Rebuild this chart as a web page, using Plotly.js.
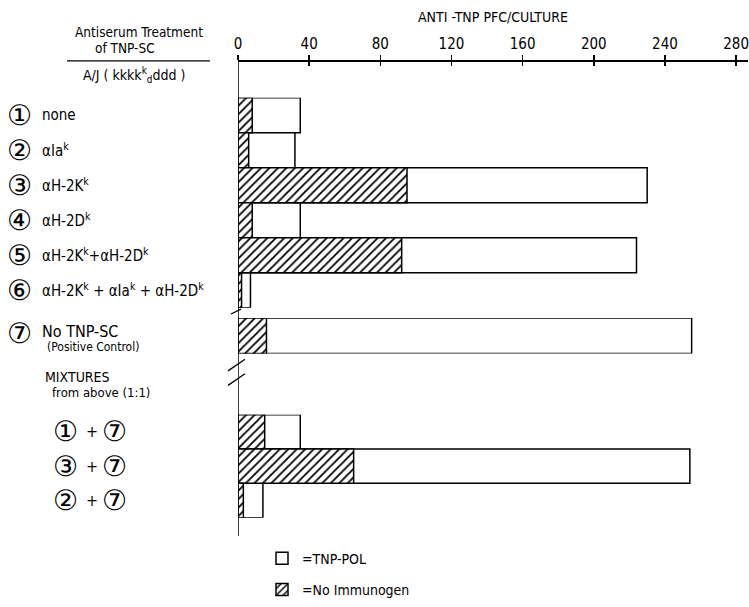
<!DOCTYPE html>
<html>
<head>
<meta charset="utf-8">
<script src="https://cdn.plot.ly/plotly-3.0.1.min.js"></script>
<style>html,body{margin:0;padding:0;background:#fff;}</style>
</head>
<body>
<div id="chart" style="width:749px;height:607px;"></div>
<script>
// ---- data ----
const rowNumbers = ['①', '②', '③', '④', '⑤', '⑥'];
const rowLabels = [
  'none',
  'αIa<sup>k</sup>',
  'αH-2K<sup>k</sup>',
  'αH-2D<sup>k</sup>',
  'αH-2K<sup>k</sup>+αH-2D<sup>k</sup>',
  'αH-2K<sup>k</sup> + αIa<sup>k</sup> + αH-2D<sup>k</sup>'
];
const rowNoImmunogen = [8, 6, 95, 8, 92, 2];
const rowTnpPol = [35, 32, 230, 35, 224, 7];

const controlNumbers = ['⑦'];
const controlLabels = ['No TNP-SC'];
const controlSubLabels = ['(Positive Control)'];
const controlNoImmunogen = [16];
const controlTnpPol = [255];

const mixFirst = ['①', '③', '②'];
const mixSecond = ['⑦', '⑦', '⑦'];
const mixIds = ['1 + 7', '3 + 7', '2 + 7'];
const mixNoImmunogen = [15, 65, 3];
const mixTnpPol = [35, 254, 14];

const xTicks = [0, 40, 80, 120, 160, 200, 240, 280];

// ---- styling ----
const FONT = '"DejaVu Sans Condensed", "DejaVu Sans", sans-serif';
const TICKFONT = '"DejaVu Sans Condensed", "DejaVu Sans", sans-serif';
const CIRC = '"DejaVu Sans", sans-serif';
const lineStyle = {color: '#000', width: 1.5};

function whiteBar(x, y, yaxis, show) {
  return {type: 'bar', orientation: 'h', x: x, y: y, yaxis: yaxis, xaxis: 'x',
    name: '=TNP-POL', legendgroup: 'a', showlegend: show, width: 1,
    marker: {color: '#fff', line: lineStyle}, hoverinfo: 'x'};
}
function hatchBar(x, y, yaxis, show) {
  return {type: 'bar', orientation: 'h', x: x, y: y, yaxis: yaxis, xaxis: 'x',
    name: '=No Immunogen', legendgroup: 'b', showlegend: show, width: 1,
    marker: {color: '#fff', line: lineStyle,
      pattern: {shape: '/', fgcolor: '#000', bgcolor: '#fff', size: 6, solidity: 0.3}},
    hoverinfo: 'x'};
}

const traces = [
  whiteBar(rowTnpPol, rowLabels, 'y', true),
  hatchBar(rowNoImmunogen, rowLabels, 'y', true),
  whiteBar(controlTnpPol, controlLabels, 'y2', false),
  hatchBar(controlNoImmunogen, controlLabels, 'y2', false),
  whiteBar(mixTnpPol, mixIds, 'y3', false),
  hatchBar(mixNoImmunogen, mixIds, 'y3', false),
  // invisible trace to carry the inner half of the crossing ticks
  {type: 'scatter', x: [0], y: [rowLabels[0]], xaxis: 'x2', yaxis: 'y',
   mode: 'markers', marker: {opacity: 0}, showlegend: false, hoverinfo: 'skip'}
];

const W = 510; // plot width in px
const px = p => (p - 238) / W;          // pixel x -> paper x
const py = p => (553 - p) / 493;        // pixel y -> paper y

const annotations = [];
function txt(text, x, y, yref, size, family, anchor) {
  annotations.push({text: text, x: x, y: y, xref: 'paper', yref: yref,
    xanchor: anchor || 'left', yanchor: 'middle', showarrow: false,
    font: {family: family || FONT, size: size || 14, color: '#000'}});
}
rowLabels.forEach((l, i) => {
  txt(rowNumbers[i], px(19), i, 'y', 28, CIRC, 'center');
  txt(l, px(40), i, 'y', 15);
});
txt(controlNumbers[0], px(19), py(343), 'paper', 28, CIRC, 'center');
txt(controlLabels[0], px(40), py(341), 'paper', 16);
txt(controlSubLabels[0], px(45), py(357), 'paper', 12);
txt('MIXTURES', px(43), py(388), 'paper', 14);
txt('from above (1:1)', px(50), py(404), 'paper', 13);
mixIds.forEach((m, i) => {
  txt(mixFirst[i], px(65), i, 'y3', 28, CIRC, 'center');
  txt('+', px(92), i, 'y3', 16, FONT, 'center');
  txt(mixSecond[i], px(114), i, 'y3', 28, CIRC, 'center');
});
txt('Antiserum Treatment', px(139), py(31), 'paper', 13.5, FONT, 'center');
txt('of TNP-SC', px(125), py(48), 'paper', 13.5, FONT, 'center');
txt('A/J ( kkkk<sup>k</sup><sub>d</sub>ddd )', px(134), py(76), 'paper', 14, FONT, 'center');

const shapes = [
  // continuous vertical baseline
  {type: 'line', xref: 'x', yref: 'paper', x0: 0, x1: 0, y0: 0, y1: 1, line: lineStyle},
  // header underline
  {type: 'line', xref: 'paper', yref: 'paper', x0: px(67), x1: px(210), y0: py(61), y1: py(61), line: {color: '#000', width: 1.3}},
  // axis break marks
  {type: 'line', xref: 'paper', yref: 'paper', x0: px(231), x1: px(241), y0: py(323), y1: py(318), line: {color: '#000', width: 1.2}},
  {type: 'line', xref: 'paper', yref: 'paper', x0: px(228), x1: px(245), y0: py(382), y1: py(370), line: {color: '#000', width: 1.3}},
  {type: 'line', xref: 'paper', yref: 'paper', x0: px(228), x1: px(245), y0: py(397), y1: py(385), line: {color: '#000', width: 1.3}}
];

const yCommon = {showticklabels: false, showline: false, showgrid: false, zeroline: false,
  ticks: '', fixedrange: true};

const layout = {
  width: 749, height: 607,
  margin: {l: 238, r: 1, t: 60, b: 54},
  paper_bgcolor: '#fff', plot_bgcolor: 'rgba(0,0,0,0)',
  barmode: 'overlay', bargap: 0,
  font: {family: FONT, color: '#000', size: 14},
  showlegend: true,
  legend: {x: px(262), y: py(560), xanchor: 'left', yanchor: 'top',
    traceorder: 'grouped', tracegroupgap: 10,
    font: {family: FONT, size: 14, color: '#000'}, bgcolor: 'rgba(0,0,0,0)'},
  xaxis: {side: 'top', anchor: 'free', position: 1, range: [0, W / 1.779],
    tickvals: xTicks, ticktext: xTicks.map(String), ticks: 'outside', ticklen: 5,
    tickwidth: 1.5, tickcolor: '#000', showline: true, linecolor: '#000', linewidth: 1.5,
    showgrid: false, zeroline: false, fixedrange: true, ticklabeloverflow: 'allow',
    tickfont: {family: TICKFONT, size: 15, color: '#000'},
    title: {text: 'ANTI -TNP PFC/CULTURE', standoff: 7, font: {family: FONT, size: 14, color: '#000'}}},
  xaxis2: {overlaying: 'x', matches: 'x', side: 'top', anchor: 'free', position: 1,
    tickvals: xTicks, ticks: 'inside', ticklen: 5, tickwidth: 1.5, tickcolor: '#000',
    showticklabels: false, showline: false, showgrid: false, zeroline: false},
  yaxis: Object.assign({domain: [py(316.7), py(99)], range: [5.5, -0.5], type: 'category'}, yCommon),
  yaxis2: Object.assign({domain: [py(364), py(327.3)], range: [0.5, -0.5], type: 'category'}, yCommon),
  yaxis3: Object.assign({domain: [py(534), py(427.3)], range: [2.5, -0.5], type: 'category'}, yCommon),
  annotations: annotations,
  shapes: shapes
};

Plotly.newPlot('chart', traces, layout, {displayModeBar: false, staticPlot: true});
</script>
</body>
</html>
